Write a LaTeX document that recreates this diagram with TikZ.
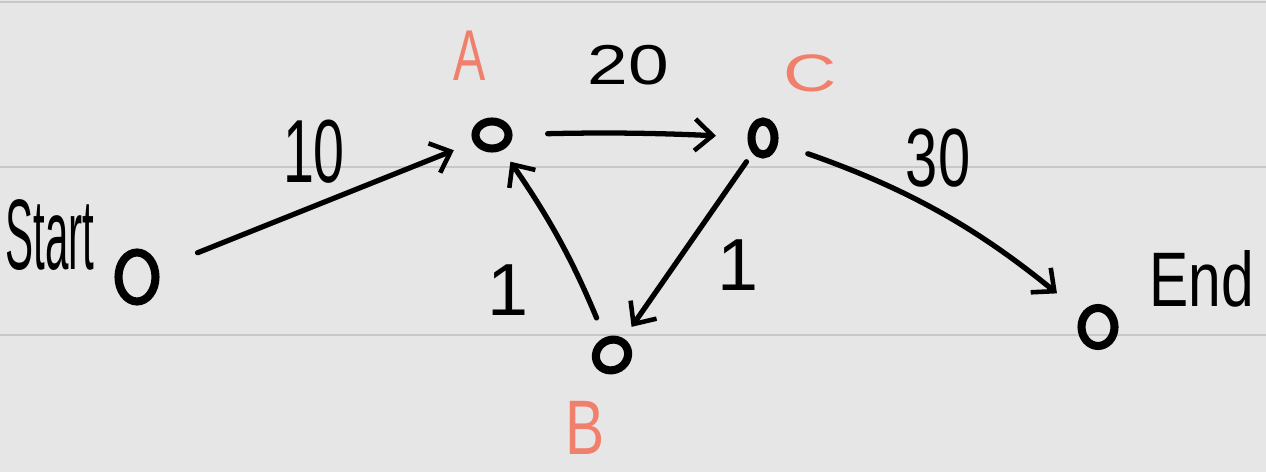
\documentclass[tikz,border=0pt]{standalone}
\usepackage{fontspec}
\setmainfont{Liberation Sans}
\usetikzlibrary{arrows.meta,shapes.geometric}
\definecolor{bg}{HTML}{E6E6E6}
\definecolor{rule}{HTML}{C8C8C8}
\definecolor{salmon}{HTML}{F0806C}
\newcommand{\hwt}[3]{\scalebox{#1}[1]{\fontsize{#2}{#2}\selectfont #3}}
\begin{document}
\begin{tikzpicture}[x=0.02cm,y=-0.02cm,
  vertex/.style={draw=black,line width=4.6pt,ellipse,inner sep=0pt},
  edge/.style={line width=3pt,line cap=round,-{Straight Barb[length=10pt,width=18pt,line width=2.6pt]}},
  blacklab/.style={inner sep=0pt,text=black},
  vlabel/.style={inner sep=0pt,text=salmon}]
\fill[bg] (0,0) rectangle (1266,472);
\useasboundingbox (0,0) rectangle (1266,472);
\draw[rule,line width=1.6pt] (0,2) -- (1266,2);
\draw[rule,line width=1.6pt] (0,167) -- (1266,167);
\draw[rule,line width=1.6pt] (0,335) -- (1266,335);
% nodes
\node[vertex,minimum width=0.74cm,minimum height=0.98cm] (S) at (137,277) {};
\node[vertex,minimum width=0.66cm,minimum height=0.54cm] (A) at (492,135) {};
\node[vertex,minimum width=0.46cm,minimum height=0.66cm] (C) at (763,138) {};
\node[vertex,minimum width=0.66cm,minimum height=0.6cm,rotate=30] (B) at (612,355) {};
\node[vertex,minimum width=0.66cm,minimum height=0.76cm] (E) at (1098,327) {};
% texts
\node[blacklab] (tS) at (50,235) {\hwt{0.42}{57pt}{Start}};
\node[blacklab] (tE) at (1202,279) {\hwt{0.76}{44pt}{End}};
\node[vlabel] (nA) at (470,56) {\hwt{0.67}{41pt}{A}};
\node[vlabel] (nC) at (810,73) {\hwt{1.4}{30pt}{C}};
\node[vlabel] (nB) at (585,428) {\hwt{0.76}{44pt}{B}};
\node[blacklab] (w10) at (314,152) {\hwt{0.62}{51pt}{10}};
\node[blacklab] (w20) at (628,65) {\hwt{1.3}{32pt}{20}};
\node[blacklab] (w30) at (938,158) {\hwt{0.7}{47pt}{30}};
\node[blacklab] (w1a) at (508,290) {\hwt{1}{42pt}{1}};
\node[blacklab] (w1b) at (738,265) {\hwt{1}{42pt}{1}};
% edges
\draw[edge,shorten <=24pt,shorten >=12pt] (S) -- (A);
\draw[edge,shorten <=20pt,shorten >=18pt] (A) to[bend left=2] (C);
\draw[edge,shorten <=12pt,shorten >=8pt] (B) to[bend right=6] (A);
\draw[edge,shorten <=6pt,shorten >=8pt] (C) -- (B);
\draw[edge,shorten <=18pt,shorten >=18pt] (C) to[bend left=10] (E);
\end{tikzpicture}
\end{document}
